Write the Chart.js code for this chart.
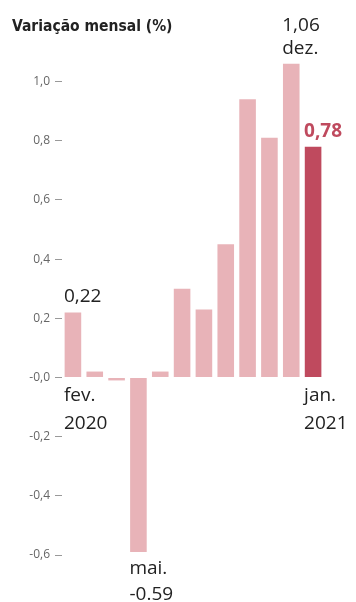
<!DOCTYPE html>
<html>
<head>
<meta charset="utf-8">
<script src="https://cdn.jsdelivr.net/npm/chart.js@4.4.1/dist/chart.umd.min.js"></script>
<style>
  html, body { margin: 0; padding: 0; background: #fff; }
  #wrap { position: relative; width: 356px; height: 602px; }
</style>
</head>
<body>
<div id="wrap"><canvas id="myChart" width="356" height="602"></canvas></div>
<script>
/* globals Chart:false */

// IPCA-15, variação mensal (%)
const months = ['fev.', 'mar.', 'abr.', 'mai.', 'jun.', 'jul.', 'ago.', 'set.', 'out.', 'nov.', 'dez.', 'jan.']
const values = [0.22, 0.02, -0.01, -0.59, 0.02, 0.30, 0.23, 0.45, 0.94, 0.81, 1.06, 0.78]
const tickValues = [-0.6, -0.4, -0.2, 0, 0.2, 0.4, 0.6, 0.8, 1.0]
const tickLabels = ['-0,6', '-0,4', '-0,2', '-0,0', '0,2', '0,4', '0,6', '0,8', '1,0']
const title = 'Variação mensal (%)'

// callouts: bar index, text lines, above/below
const notes = [
  { i: 0, lines: ['0,22'], where: 'above' },
  { i: 0, lines: ['fev.', '2020'], where: 'zero' },
  { i: 3, lines: ['mai.', '-0.59'], where: 'below' },
  { i: 10, lines: ['1,06', 'dez.'], where: 'above' },
  { i: 11, lines: ['0,78'], where: 'above', strong: true },
  { i: 11, lines: ['jan.', '2021'], where: 'zero' }
]

const pink = '#e8b3b8'
const red = '#bf4a5e'

const notesPlugin = {
  id: 'notes',
  afterDraw (chart) {
    const { ctx, scales } = chart
    const x = scales.x
    const y = scales.y
    ctx.save()
    // title
    ctx.fillStyle = '#222'
    ctx.font = 'bold 15.5px "DejaVu Sans Condensed", "DejaVu Sans"'
    ctx.textAlign = 'left'
    ctx.textBaseline = 'alphabetic'
    ctx.fillText(title, 12, 31)

    notes.forEach(n => {
      const cx = x.getPixelForValue(n.i)
      const v = values[n.i]
      ctx.font = n.strong ? 'bold 19px "Open Sans"' : '19px "Open Sans"'
      ctx.fillStyle = n.strong ? red : '#222'
      ctx.textAlign = 'left'
      let lh = 23
      let base
      if (n.where === 'above') {
        base = y.getPixelForValue(v) - 10 - (n.lines.length - 1) * lh
      } else if (n.where === 'zero') {
        lh = 28
        base = y.getPixelForValue(0) + 24
      } else {
        lh = 26
        base = y.getPixelForValue(v) + 22
      }
      const left = cx - 9
      n.lines.forEach((t, k) => {
        ctx.fillText(t, left, base + k * lh)
      })
    })
    ctx.restore()
  }
}

const ctx = document.getElementById('myChart')
// eslint-disable-next-line no-unused-vars
const myChart = new Chart(ctx, {
  type: 'bar',
  data: {
    labels: months,
    datasets: [{
      data: values,
      backgroundColor: values.map((v, i) => i === values.length - 1 ? red : pink),
      barPercentage: 0.76,
      categoryPercentage: 1
    }]
  },
  options: {
    responsive: false,
    animation: false,
    layout: { padding: { top: 52, right: 32, bottom: 47, left: 0 } },
    plugins: {
      legend: { display: false },
      tooltip: { enabled: false }
    },
    scales: {
      x: {
        display: false
      },
      y: {
        min: -0.6,
        max: 1.1,
        afterBuildTicks (axis) {
          axis.ticks = tickValues.map(v => ({ value: v }))
        },
        afterFit (axis) {
          axis.width = 62
        },
        border: { display: false },
        grid: {
          drawOnChartArea: false,
          drawTicks: true,
          tickLength: 7,
          tickColor: '#999'
        },
        ticks: {
          padding: 5,
          color: '#666',
          font: { family: 'Open Sans', size: 12 },
          callback (value) {
            const k = tickValues.findIndex(t => Math.abs(t - value) < 1e-6)
            return k >= 0 ? tickLabels[k] : ''
          }
        }
      }
    }
  },
  plugins: [notesPlugin]
})
</script>
</body>
</html>
